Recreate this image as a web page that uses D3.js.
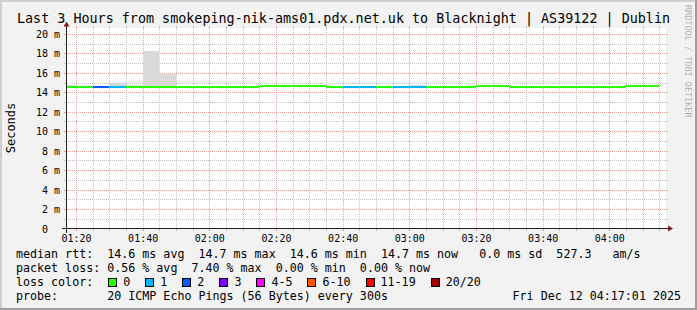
<!DOCTYPE html>
<html>
<head>
<meta charset="utf-8">
<script src="https://cdn.jsdelivr.net/npm/d3@7"></script>
<style>
html, body { margin: 0; padding: 0; background: #f2f2f2; }
svg text { font-family: "DejaVu Sans Mono", monospace; white-space: pre; }
</style>
</head>
<body>
<svg id="chart" width="697" height="310"></svg>
<script>

// DATA
var titleText = "Last 3 Hours from smokeping-nik-ams01.pdx.net.uk to Blacknight | AS39122 | Dublin";

// one value per 5 minute step, first step starts 01:15 (clipped by the graph start at 01:17)
var median = [14.6, 14.6, 14.6, 14.6, 14.6, 14.6, 14.6, 14.6, 14.6, 14.6, 14.6, 14.6,
              14.7, 14.7, 14.7, 14.7, 14.6, 14.6, 14.6, 14.6, 14.6, 14.6, 14.6, 14.6,
              14.6, 14.7, 14.7, 14.6, 14.6, 14.6, 14.6, 14.6, 14.6, 14.6, 14.7, 14.7];
var lostPings = [0, 0, 2, 1, 0, 0, 0, 0, 0, 0, 0, 0,
                 0, 0, 0, 0, 0, 1, 1, 0, 1, 1, 0, 0,
                 0, 0, 0, 0, 0, 0, 0, 0, 0, 0, 0, 0];
var smokeTop = [14.75, 14.6, 14.6, 15.0, 14.75, 18.2, 15.85, 14.6, 14.6, 14.6, 14.6, 14.6,
                14.7, 14.7, 14.7, 14.7, 14.6, 14.6, 14.6, 14.6, 14.6, 14.75, 14.6, 14.6,
                14.6, 14.7, 14.7, 14.6, 14.6, 14.6, 14.6, 14.6, 14.6, 14.6, 14.7, 14.7];

var lossLabels = ["0", "1", "2", "3", "4-5", "6-10", "11-19", "20/20"];
var lossColors = ["#26ff00", "#00b8ff", "#0059ff", "#7e00ff", "#ff00ff", "#ff5500", "#ff0000", "#a10000"];
var lossUpper = [0, 1, 2, 3, 5, 10, 19, 20];

var rttStats = [14.6, 14.7, 14.6, 14.7];   // avg max min now
var rttSd = 0.0, amPerS = 527.3;
var lossStats = [0.56, 7.40, 0.00, 0.00];  // avg max min now
var probeText = "20 ICMP Echo Pings (56 Bytes) every 300s";
var dateText = "Fri Dec 12 04:17:01 2025";

var graphStart = new Date(2025, 11, 12, 1, 17);
var graphEnd = new Date(2025, 11, 12, 4, 17);
var firstStep = new Date(2025, 11, 12, 1, 15);

// LAYOUT
var W = 697, H = 310;
var X0 = 66, X1 = 666, Y0 = 228.5, Y1 = 28.5;
var legendFont = 11.67, axisFont = 10;

var svg = d3.select("#chart");

svg.append("rect").attr("width", W).attr("height", H).attr("fill", "#f2f2f2");
// shaded border
svg.append("rect").attr("x", 0).attr("y", 0).attr("width", W).attr("height", 2).attr("fill", "#cfcfcf");
svg.append("rect").attr("x", 0).attr("y", 0).attr("width", 2).attr("height", H).attr("fill", "#cfcfcf");
svg.append("rect").attr("x", 0).attr("y", H - 2).attr("width", W).attr("height", 2).attr("fill", "#9e9e9e");
svg.append("rect").attr("x", W - 2).attr("y", 0).attr("width", 2).attr("height", H).attr("fill", "#9e9e9e");

// canvas
svg.append("rect").attr("x", X0).attr("y", 28).attr("width", X1 - X0).attr("height", 200).attr("fill", "#ffffff");

var x = d3.scaleTime().domain([graphStart, graphEnd]).range([X0, X1]);
var y = d3.scaleLinear().domain([0, 20.55]).range([Y0, Y1]);

var stepTimes = median.map(function(d, i) { return d3.timeMinute.offset(firstStep, i * 5); });

function lossColor(n) {
  for (var i = 0; i < lossUpper.length; i++) {
    if (n <= lossUpper[i]) return lossColors[i];
  }
  return lossColors[lossColors.length - 1];
}

var px = function(v) { return Math.round(v) + 0.5; };
var minorCol = "#c4c4c4", majorCol = "#ec9a9a";

//GRID
var grid = svg.append("g").attr("shape-rendering", "crispEdges");

var minorY = y.ticks(20), majorY = y.ticks(10);
minorY.forEach(function(v) {
  if (v === 0) return;
  var isMajor = majorY.indexOf(v) >= 0;
  var yy = px(y(v)), c = isMajor ? majorCol : minorCol;
  grid.append("line").attr("x1", X0 - 2).attr("x2", X0).attr("y1", yy).attr("y2", yy).attr("stroke", c);
  grid.append("line").attr("x1", X1).attr("x2", X1 + 2).attr("y1", yy).attr("y2", yy).attr("stroke", c);
  grid.append("line").attr("x1", X0).attr("x2", X1).attr("y1", yy).attr("y2", yy)
    .attr("stroke", c).attr("stroke-dasharray", "1,1");
});

var minorX = x.ticks(d3.timeMinute.every(5));
var majorX = x.ticks(d3.timeMinute.every(20));
minorX.forEach(function(t) {
  var isMajor = t.getMinutes() % 20 === 0;
  var xx = px(x(t)), c = isMajor ? majorCol : minorCol;
  grid.append("line").attr("x1", xx).attr("x2", xx).attr("y1", 228).attr("y2", 231).attr("stroke", c);
  grid.append("line").attr("x1", xx).attr("x2", xx).attr("y1", 26).attr("y2", 28).attr("stroke", c);
  grid.append("line").attr("x1", xx).attr("x2", xx).attr("y1", 28).attr("y2", 228)
    .attr("stroke", c).attr("stroke-dasharray", "1,1");
});

// SMOKE
var smoke = svg.append("g").attr("shape-rendering", "crispEdges");
stepTimes.forEach(function(t, i) {
  var xs = Math.max(x(t), X0), xe = x(d3.timeMinute.offset(t, 5));
  var top = y(smokeTop[i]), bot = y(median[i]);
  if (bot - top < 0.5) return;
  smoke.append("rect").attr("x", xs).attr("width", xe - xs)
    .attr("y", top).attr("height", bot - top).attr("fill", "#d9d9d9");
});

// MEDIAN LINE
var lineG = svg.append("g");
stepTimes.forEach(function(t, i) {
  var xs = Math.max(x(t), X0), xe = x(d3.timeMinute.offset(t, 5));
  lineG.append("line").attr("x1", xs).attr("x2", xe)
    .attr("y1", y(median[i]) + 0.6).attr("y2", y(median[i]) + 0.6)
    .attr("stroke", lossColor(lostPings[i])).attr("stroke-width", 2);
});

// AXES
var axisCol = "#1f1f1f", arrowCol = "#801f1f";
svg.append("line").attr("x1", X0 - 4).attr("x2", X1 + 4).attr("y1", Y0).attr("y2", Y0)
  .attr("stroke", axisCol).attr("shape-rendering", "crispEdges");
svg.append("line").attr("x1", X0 + 0.5).attr("x2", X0 + 0.5).attr("y1", Y0 + 4).attr("y2", Y1 - 4)
  .attr("stroke", axisCol).attr("shape-rendering", "crispEdges");
svg.append("path").attr("d", "M" + (X1 + 2) + "," + (Y0 - 3) + "L" + (X1 + 2) + "," + (Y0 + 3) + "L" + (X1 + 7) + "," + Y0 + "Z")
  .attr("fill", arrowCol);
svg.append("path").attr("d", "M" + (X0 - 2.5) + "," + (Y1 - 2) + "L" + (X0 + 3.5) + "," + (Y1 - 2) + "L" + (X0 + 0.5) + "," + (Y1 - 7) + "Z")
  .attr("fill", arrowCol);

var xAxis = svg.append("g").attr("transform", "translate(0,241.5)")
  .call(d3.axisBottom(x).tickValues(majorX).tickFormat(d3.timeFormat("%H:%M")).tickSize(0));
xAxis.select(".domain").remove();
xAxis.selectAll("text").attr("y", 0).attr("dy", 0)
  .style("font-family", "DejaVu Sans Mono").style("font-size", axisFont + "px").attr("fill", "#000");

var yAxis = svg.append("g").attr("transform", "translate(60,0)")
  .call(d3.axisLeft(y).tickValues(majorY).tickSize(0)
    .tickFormat(function(d) { return d === 0 ? "0  " : d + " m"; }));
yAxis.select(".domain").remove();
yAxis.selectAll("text").attr("x", 0).attr("dy", "0.36em")
  .style("font-family", "DejaVu Sans Mono").style("font-size", axisFont + "px").attr("fill", "#000");

//TEXTS
svg.append("text").attr("x", 17).attr("y", 22.5).style("font-size", "13.4px").attr("fill", "#000").text(titleText);

svg.append("text").attr("transform", "translate(14.5,128) rotate(-90)")
  .attr("text-anchor", "middle").style("font-size", "12px").attr("fill", "#000").text("Seconds");

svg.append("text").attr("transform", "translate(684.5,5) rotate(90)")
  .style("font-size", "8.5px").attr("fill", "#000").attr("fill-opacity", 0.3).text("RRDTOOL / TOBI OETIKER");

var f1 = function(v) { return v.toFixed(1); }, f2 = function(v) { return v.toFixed(2); };
var row1 = "median rtt:  " + f1(rttStats[0]) + " ms avg  " + f1(rttStats[1]) + " ms max  " +
  f1(rttStats[2]) + " ms min  " + f1(rttStats[3]) + " ms now   " + f1(rttSd) + " ms sd  " + f1(amPerS) + "   am/s";
var row2 = "packet loss: " + f2(lossStats[0]) + " % avg  " + f2(lossStats[1]) + " % max  " +
  f2(lossStats[2]) + " % min  " + f2(lossStats[3]) + " % now";

var legend = svg.append("g").style("font-size", legendFont + "px").attr("fill", "#000");
legend.append("text").attr("x", 16).attr("y", 258.4).text(row1);
legend.append("text").attr("x", 16).attr("y", 272.2).text(row2);
legend.append("text").attr("x", 16).attr("y", 286).text("loss color:");
legend.append("text").attr("x", 16).attr("y", 299.8).text("probe:       " + probeText);
legend.append("text").attr("x", 681).attr("y", 299.8).attr("text-anchor", "end").text(dateText);

var bx = 108.3;
lossLabels.forEach(function(lab, i) {
  legend.append("rect").attr("x", Math.round(bx) + 0.5).attr("y", 278.5).attr("width", 8).attr("height", 8)
    .attr("fill", lossColors[i]).attr("stroke", "#000").attr("stroke-width", 1);
  var t = legend.append("text").attr("x", bx + 15).attr("y", 286).text(lab);
  bx += 15 + t.node().getComputedTextLength() + 15;
});

</script>
</body>
</html>
